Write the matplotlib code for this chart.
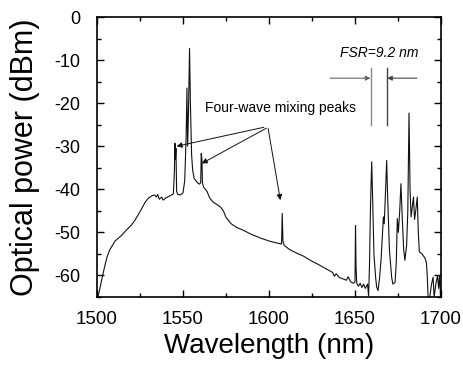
import matplotlib
matplotlib.use("Agg")
import matplotlib.pyplot as plt
from matplotlib.ticker import MultipleLocator

plt.rcParams['font.family'] = ['Liberation Sans', 'DejaVu Sans']
plt.rcParams['axes.unicode_minus'] = False

wavelength = [
    1500.5, 1501.7, 1503.0, 1504.7, 1506.0, 1507.5, 1510.5, 1514.0, 1517.0, 1520.0,
    1522.0, 1525.0, 1528.0, 1530.0, 1532.0, 1533.5, 1534.5, 1535.3, 1536.2, 1537.6,
    1538.5, 1540.0, 1542.0, 1543.8, 1544.4, 1545.0, 1545.3, 1545.6, 1545.9, 1546.3,
    1547.0, 1548.5, 1550.0, 1551.0, 1551.8, 1552.3, 1552.7, 1553.2, 1553.8, 1554.3,
    1555.0, 1555.6, 1556.5, 1558.0, 1559.5, 1560.3, 1560.6, 1561.0, 1561.3, 1562.0,
    1563.0, 1564.0, 1565.5, 1567.6, 1570.0, 1572.0, 1573.5, 1575.0, 1578.0, 1581.0,
    1585.0, 1590.0, 1595.0, 1600.0, 1604.0, 1607.3, 1607.7, 1608.1, 1608.8, 1612.0,
    1616.0, 1620.0, 1625.0, 1628.0, 1632.0, 1635.5, 1637.0, 1638.0, 1639.0, 1641.0,
    1643.0, 1645.0, 1646.0, 1647.5, 1649.0, 1650.0, 1650.3, 1650.6, 1651.0, 1652.0,
    1653.0, 1654.0, 1655.0, 1656.0, 1657.3, 1657.9, 1658.4, 1659.0, 1659.7, 1660.3,
    1661.0, 1662.0, 1662.6, 1663.4, 1664.3, 1665.2, 1666.0, 1666.5, 1667.0, 1667.7,
    1668.4, 1669.0, 1670.0, 1671.3, 1672.0, 1673.3, 1674.0, 1674.6, 1675.2, 1676.0,
    1676.7, 1677.4, 1678.3, 1679.0, 1680.0, 1680.7, 1681.4, 1682.0, 1682.6, 1683.3,
    1684.0, 1684.6, 1685.3, 1686.2, 1686.8, 1687.4, 1689.0, 1690.7, 1691.5, 1692.0,
    1692.5, 1693.5, 1694.5, 1695.4, 1696.0, 1697.0, 1698.0, 1698.6, 1699.2, 1699.7,
]
power_dbm = [
    -65.0, -63.0, -60.5, -57.5, -55.5, -54.0, -52.0, -50.8, -49.5, -48.3,
    -47.2, -45.2, -43.0, -42.0, -41.5, -41.3, -41.8, -41.2, -42.3, -41.8,
    -42.5, -42.0, -41.6, -41.2, -41.0, -36.0, -29.3, -33.0, -30.5, -40.5,
    -41.2, -41.3, -40.8, -38.0, -28.0, -16.5, -30.0, -22.0, -7.3, -20.0,
    -32.0, -35.5, -37.5, -38.3, -38.8, -38.5, -31.7, -33.0, -38.5, -39.5,
    -40.0, -40.5, -42.0, -43.0, -43.6, -44.2, -45.0, -46.5, -48.0, -48.8,
    -49.5, -50.5, -51.3, -52.0, -52.4, -52.7, -45.6, -52.0, -53.0, -54.0,
    -54.8, -55.5, -56.7, -57.3, -58.2, -59.0, -59.3, -60.2, -59.6, -60.5,
    -60.8, -61.1, -60.3, -61.5, -61.8, -61.5, -48.4, -58.0, -61.8, -62.5,
    -61.8, -62.8, -62.0, -63.0, -62.0, -64.8, -58.0, -44.0, -33.6, -43.0,
    -55.0, -60.5, -62.7, -63.5, -60.5, -56.0, -50.0, -46.4, -48.0, -41.0,
    -33.3, -42.0, -54.0, -60.4, -62.0, -61.6, -57.0, -46.8, -50.0, -45.0,
    -38.7, -46.0, -54.0, -56.5, -53.0, -45.0, -22.3, -40.0, -46.4, -44.0,
    -41.8, -47.0, -45.0, -41.8, -50.0, -54.5, -55.0, -56.0, -57.0, -60.0,
    -65.0, -65.0, -62.0, -60.4, -65.0, -62.0, -60.0, -63.0, -60.0, -65.0,
]

x_ticks = [1500, 1550, 1600, 1650, 1700]
y_ticks = [0, -10, -20, -30, -40, -50, -60]

fwm_label = "Four-wave mixing peaks"
fwm_text_xy = (1562.8, -21.2)
fwm_targets = [(1546.3, -30.0), (1560.9, -34.0), (1606.6, -42.5)]
fwm_starts = [(1597.0, -25.6), (1598.5, -25.8), (1599.5, -25.9)]

fsr_label = "FSR=9.2 nm"
fsr_lines = [1659.3, 1668.4]
fsr_top, fsr_bottom = -11.9, -25.0
fsr_arrow_y = -14.2
fsr_arrow_left = 1635.5
fsr_arrow_right = 1686.0

fig = plt.figure(figsize=(4.63, 3.69), dpi=100)
ax = fig.add_axes([0.2095, 0.1951, 0.9525 - 0.2095, 0.9539 - 0.1951])

ax.plot(wavelength, power_dbm, color='#111111', lw=0.8)

ax.set_xlim(1500, 1700)
ax.set_ylim(-65, 0)
ax.set_xticks(x_ticks)
ax.set_yticks(y_ticks)
ax.xaxis.set_minor_locator(MultipleLocator(25))
ax.yaxis.set_minor_locator(MultipleLocator(5))
ax.tick_params(which='both', direction='in', top=True, right=True, width=1.0)
ax.tick_params(which='major', length=5)
ax.tick_params(which='minor', length=3)
ax.tick_params(axis='x', which='major', labelsize=13.5, pad=10)
ax.tick_params(axis='y', which='major', labelsize=13, pad=12)
for s in ax.spines.values():
    s.set_linewidth(1.2)

ax.set_xlabel("Wavelength (nm)", fontsize=20, labelpad=4)
ax.set_ylabel("Optical power (dBm)", fontsize=22, labelpad=10)

ax.text(fwm_text_xy[0], fwm_text_xy[1], fwm_label, fontsize=10, ha='left', va='center')
for (sx, sy), (tx, ty) in zip(fwm_starts, fwm_targets):
    ax.annotate("", xy=(tx, ty), xytext=(sx, sy),
                arrowprops=dict(arrowstyle='-|>', color='#111111', lw=0.7,
                                mutation_scale=8, shrinkA=0, shrinkB=0))

ax.text(sum(fsr_lines) / 2, -8.4, fsr_label, fontsize=10, style='italic',
        ha='center', va='center')
ax.plot([fsr_lines[0]] * 2, [fsr_top, fsr_bottom], color='#888888', lw=1.0)
ax.plot([fsr_lines[1]] * 2, [fsr_top, fsr_bottom], color='#444444', lw=1.0)
ax.annotate("", xy=(fsr_lines[0] - 0.3, fsr_arrow_y), xytext=(fsr_arrow_left, fsr_arrow_y),
            arrowprops=dict(arrowstyle='-|>', color='#666666', lw=0.8,
                            mutation_scale=7, shrinkA=0, shrinkB=0))
ax.annotate("", xy=(fsr_lines[1] + 0.3, fsr_arrow_y), xytext=(fsr_arrow_right, fsr_arrow_y),
            arrowprops=dict(arrowstyle='-|>', color='#444444', lw=0.8,
                            mutation_scale=7, shrinkA=0, shrinkB=0))

fig.savefig("out.png", dpi=100)
